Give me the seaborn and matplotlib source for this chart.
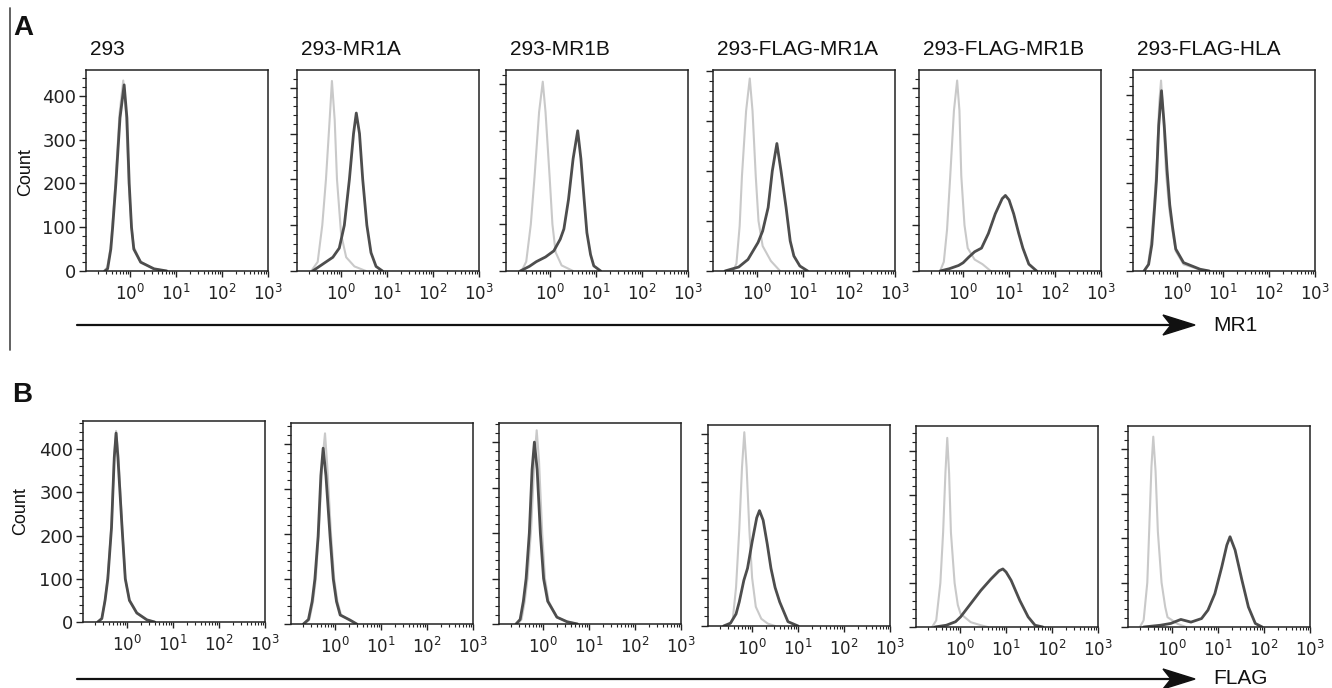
import numpy as np
import pandas as pd
import matplotlib
matplotlib.use("Agg")
import matplotlib.pyplot as plt
import seaborn as sns
from matplotlib.lines import Line2D
from matplotlib.patches import Polygon
from matplotlib.ticker import LogLocator, MultipleLocator, NullFormatter

# sample names (panel titles, row A only)
SAMPLES = ["293", "293-MR1A", "293-MR1B", "293-FLAG-MR1A", "293-FLAG-MR1B", "293-FLAG-HLA"]

# ---- row A: MR1 staining (log10 intensity, count) ----
MR1_CTRL_LOGX = [
    [-0.57, -0.5, -0.43, -0.39, -0.32, -0.23, -0.15, -0.09, -0.03, 0.03, 0.08, 0.22, 0.5, 0.8],
    [-0.65, -0.51, -0.41, -0.33, -0.25, -0.2, -0.14, -0.09, 0.0, 0.11, 0.29, 0.54],
    [-0.62, -0.52, -0.42, -0.34, -0.24, -0.16, -0.1, -0.01, 0.05, 0.12, 0.25, 0.5],
    [-0.52, -0.45, -0.38, -0.33, -0.24, -0.16, -0.1, -0.03, 0.03, 0.12, 0.3, 0.5],
    [-0.5, -0.42, -0.35, -0.28, -0.2, -0.13, -0.08, -0.04, 0.03, 0.1, 0.25, 0.42, 0.6],
    [-0.72, -0.63, -0.56, -0.5, -0.44, -0.39, -0.35, -0.3, -0.24, -0.17, -0.1, -0.03, 0.14, 0.5, 0.7],
]
MR1_CTRL_COUNT = [
    [0, 8, 50, 100, 200, 360, 435, 360, 200, 100, 55, 22, 5, 0],
    [0, 20, 100, 200, 330, 415, 330, 200, 80, 30, 10, 0],
    [0, 20, 100, 200, 340, 405, 340, 200, 100, 40, 12, 0],
    [0, 15, 90, 190, 320, 385, 320, 190, 100, 50, 20, 0],
    [0, 20, 90, 208, 350, 416, 350, 208, 100, 50, 25, 15, 0],
    [0, 15, 70, 150, 250, 380, 432, 350, 220, 140, 90, 45, 15, 3, 0],
]
MR1_STAIN_LOGX = [
    [-0.55, -0.49, -0.42, -0.38, -0.31, -0.22, -0.13, -0.07, -0.02, 0.03, 0.08, 0.23, 0.52, 0.8],
    [-0.62, -0.4, -0.18, -0.04, 0.07, 0.18, 0.27, 0.33, 0.4, 0.47, 0.56, 0.65, 0.76, 0.9],
    [-0.65, -0.45, -0.3, -0.1, 0.08, 0.22, 0.3, 0.4, 0.5, 0.6, 0.67, 0.74, 0.8, 0.88, 0.95, 1.1],
    [-0.7, -0.4, -0.2, 0.02, 0.12, 0.24, 0.33, 0.43, 0.52, 0.63, 0.72, 0.8, 0.93, 1.1],
    [-0.5, -0.3, -0.1, 0.0, 0.12, 0.25, 0.4, 0.55, 0.7, 0.85, 0.92, 1.0, 1.1, 1.21, 1.3, 1.43, 1.6],
    [-0.72, -0.62, -0.55, -0.5, -0.45, -0.4, -0.34, -0.28, -0.22, -0.16, -0.1, -0.03, 0.14, 0.5, 0.7],
]
MR1_STAIN_COUNT = [
    [0, 5, 50, 100, 200, 350, 425, 350, 200, 100, 50, 20, 5, 0],
    [0, 15, 30, 50, 100, 200, 300, 345, 300, 200, 100, 40, 10, 0],
    [0, 10, 20, 30, 43, 68, 90, 153, 240, 300, 240, 153, 82, 35, 11, 0],
    [0, 8, 23, 57, 80, 127, 200, 255, 200, 127, 60, 30, 10, 0],
    [0, 5, 12, 18, 30, 42, 50, 82, 125, 158, 165, 155, 125, 82, 50, 15, 0],
    [0, 15, 60, 130, 205, 330, 409, 330, 230, 150, 100, 50, 19, 4, 0],
]

# ---- row B: FLAG staining ----
FLAG_CTRL_LOGX = [
    [-0.64, -0.55, -0.48, -0.42, -0.34, -0.28, -0.24, -0.19, -0.11, -0.04, 0.05, 0.21, 0.43, 0.6],
    [-0.67, -0.56, -0.48, -0.42, -0.35, -0.28, -0.22, -0.17, -0.09, -0.02, 0.05, 0.13, 0.32, 0.47],
    [-0.55, -0.47, -0.4, -0.34, -0.26, -0.19, -0.14, -0.09, -0.02, 0.04, 0.12, 0.3, 0.52, 0.75],
    [-0.5, -0.42, -0.35, -0.28, -0.22, -0.17, -0.12, -0.06, 0.0, 0.08, 0.2, 0.34, 0.5],
    [-0.61, -0.52, -0.43, -0.37, -0.32, -0.28, -0.24, -0.2, -0.12, -0.05, 0.01, 0.23, 0.45, 0.6],
    [-0.7, -0.62, -0.54, -0.5, -0.45, -0.41, -0.36, -0.31, -0.23, -0.15, -0.1, 0.12, 0.3],
]
FLAG_CTRL_COUNT = [
    [0, 8, 52, 105, 225, 385, 442, 385, 222, 100, 50, 20, 5, 0],
    [0, 10, 50, 100, 212, 360, 424, 350, 200, 100, 50, 20, 8, 0],
    [0, 10, 50, 100, 210, 360, 426, 360, 200, 100, 50, 15, 5, 0],
    [0, 15, 80, 200, 330, 403, 330, 200, 100, 40, 15, 5, 0],
    [0, 15, 100, 215, 350, 430, 350, 215, 100, 50, 30, 11, 4, 0],
    [0, 15, 100, 214, 360, 428, 350, 214, 100, 45, 22, 7, 0],
]
FLAG_STAIN_LOGX = [
    [-0.64, -0.55, -0.48, -0.42, -0.34, -0.28, -0.24, -0.2, -0.11, -0.04, 0.05, 0.21, 0.43, 0.6],
    [-0.69, -0.58, -0.5, -0.44, -0.37, -0.31, -0.26, -0.2, -0.11, -0.04, 0.03, 0.11, 0.32, 0.47],
    [-0.59, -0.5, -0.43, -0.37, -0.3, -0.24, -0.19, -0.13, -0.06, 0.01, 0.1, 0.3, 0.52, 0.75],
    [-0.62, -0.47, -0.35, -0.28, -0.18, -0.1, 0.0, 0.1, 0.16, 0.24, 0.33, 0.41, 0.5, 0.6, 0.78, 1.0],
    [-0.55, -0.3, -0.1, 0.01, 0.12, 0.23, 0.45, 0.67, 0.85, 0.93, 1.0, 1.11, 1.3, 1.48, 1.63, 1.8],
    [-0.62, -0.25, -0.03, 0.19, 0.41, 0.64, 0.78, 0.93, 1.08, 1.19, 1.26, 1.37, 1.52, 1.66, 1.81, 1.96],
]
FLAG_STAIN_COUNT = [
    [0, 8, 50, 100, 218, 380, 437, 380, 218, 100, 50, 21, 5, 0],
    [0, 10, 50, 100, 195, 330, 391, 330, 195, 100, 50, 20, 9, 0],
    [0, 10, 50, 100, 200, 340, 400, 340, 200, 100, 50, 15, 5, 0],
    [0, 6, 25, 50, 95, 120, 175, 225, 240, 220, 170, 120, 80, 50, 9, 0],
    [0, 4, 12, 23, 38, 53, 83, 109, 128, 132, 125, 106, 60, 23, 4, 0],
    [0, 4, 8, 17, 11, 19, 38, 75, 135, 184, 203, 173, 105, 45, 8, 0],
]

# per-panel count axis tops
MR1_YMAX = [459, 439, 430, 402, 439, 456]
FLAG_YMAX = [465, 447, 442, 418, 457, 452]

CTRL_COLOR = "#c9c9c9"
STAIN_COLOR = "#4d4d4d"

W, H = 1332, 688
sns.set_theme(style="ticks")
plt.rcParams['font.family'] = ['DejaVu Sans']
LABEL_FONT = ['Liberation Sans', 'DejaVu Sans']

fig = plt.figure(figsize=(W / 100, H / 100), dpi=100)


def px_axes(left, top, width=182, height=201):
    return fig.add_axes([left / W, 1 - (top + height) / H, width / W, height / H])


def draw_panel(ax, cx, cy, sx, sy, ymax, first):
    ctrl = pd.DataFrame({"intensity": 10 ** np.array(cx), "count": cy})
    stain = pd.DataFrame({"intensity": 10 ** np.array(sx), "count": sy})
    sns.lineplot(data=ctrl, x="intensity", y="count", ax=ax, color=CTRL_COLOR,
                 linewidth=1.5, sort=False, estimator=None)
    sns.lineplot(data=stain, x="intensity", y="count", ax=ax, color=STAIN_COLOR,
                 linewidth=2.0, sort=False, estimator=None)
    ax.set_xscale("log")
    ax.set_xlim(10 ** -0.96, 1000)
    ax.set_ylim(0, ymax)
    ax.set_xlabel("")
    ax.set_ylabel("")
    ax.xaxis.set_major_locator(LogLocator(base=10, numticks=10))
    ax.xaxis.set_minor_locator(LogLocator(base=10, subs=np.arange(2, 10), numticks=10))
    ax.xaxis.set_minor_formatter(NullFormatter())
    ax.yaxis.set_major_locator(MultipleLocator(100))
    ax.yaxis.set_minor_locator(MultipleLocator(20))
    for s in ax.spines.values():
        s.set_linewidth(1.1)
        s.set_color("#222222")
    ax.tick_params(axis="x", which="major", length=4, width=1.0, labelsize=12, pad=5, colors="#222222")
    ax.tick_params(axis="x", which="minor", length=2, width=0.8, colors="#222222")
    ax.tick_params(axis="y", which="major", length=5, width=1.0, labelsize=13, pad=2, colors="#222222")
    ax.tick_params(axis="y", which="minor", length=3, width=0.8, colors="#222222")
    ax.tick_params(labelleft=first)


row_a_left = [86, 297, 506, 713, 919, 1133]
row_b_left = [83, 291, 499, 708, 916, 1128]
row_b_top = [421, 423, 423, 425, 426, 426]

for i in range(6):
    ax = px_axes(row_a_left[i], 70)
    draw_panel(ax, MR1_CTRL_LOGX[i], MR1_CTRL_COUNT[i], MR1_STAIN_LOGX[i], MR1_STAIN_COUNT[i],
               MR1_YMAX[i], i == 0)
    ax.text(0.02, 1 + 15 / 201, SAMPLES[i], transform=ax.transAxes, va="baseline", ha="left",
            fontsize=15, family=LABEL_FONT, color="#111111")

for i in range(6):
    ax = px_axes(row_b_left[i], row_b_top[i])
    draw_panel(ax, FLAG_CTRL_LOGX[i], FLAG_CTRL_COUNT[i], FLAG_STAIN_LOGX[i], FLAG_STAIN_COUNT[i],
               FLAG_YMAX[i], i == 0)

# "Count" labels
fig.text(26 / W, 1 - 172 / H, "Count", rotation=90, ha="center", va="center",
         fontsize=13, family=LABEL_FONT, color="#111111")
fig.text(21 / W, 1 - 511 / H, "Count", rotation=90, ha="center", va="center",
         fontsize=13, family=LABEL_FONT, color="#111111")

# panel letters
fig.text(13 / W, 1 - 35 / H, "A", ha="left", va="baseline", fontsize=20, fontweight="bold",
         family=LABEL_FONT, color="#111111")
fig.text(12 / W, 1 - 402 / H, "B", ha="left", va="baseline", fontsize=20, fontweight="bold",
         family=LABEL_FONT, color="#111111")

# left vertical rule beside row A
fig.add_artist(Line2D([10 / W, 10 / W], [1 - 8 / H, 1 - 350 / H], transform=fig.transFigure,
                      color="#555555", linewidth=1.3))


# axis arrows under each row
def draw_arrow(y, label):
    yf = 1 - y / H
    fig.add_artist(Line2D([77 / W, 1175 / W], [yf, yf], transform=fig.transFigure,
                          color="#111111", linewidth=1.6))
    head = [(1195, y), (1163, y - 10), (1171, y), (1163, y + 10)]
    fig.add_artist(Polygon([(px / W, 1 - py / H) for px, py in head], closed=True,
                           transform=fig.transFigure, facecolor="#111111", edgecolor="#111111"))
    fig.text(1213 / W, yf, label, ha="left", va="center", fontsize=15, family=LABEL_FONT,
             color="#111111")


draw_arrow(325, "MR1")
draw_arrow(679, "FLAG")

fig.savefig("out.png", dpi=100)
